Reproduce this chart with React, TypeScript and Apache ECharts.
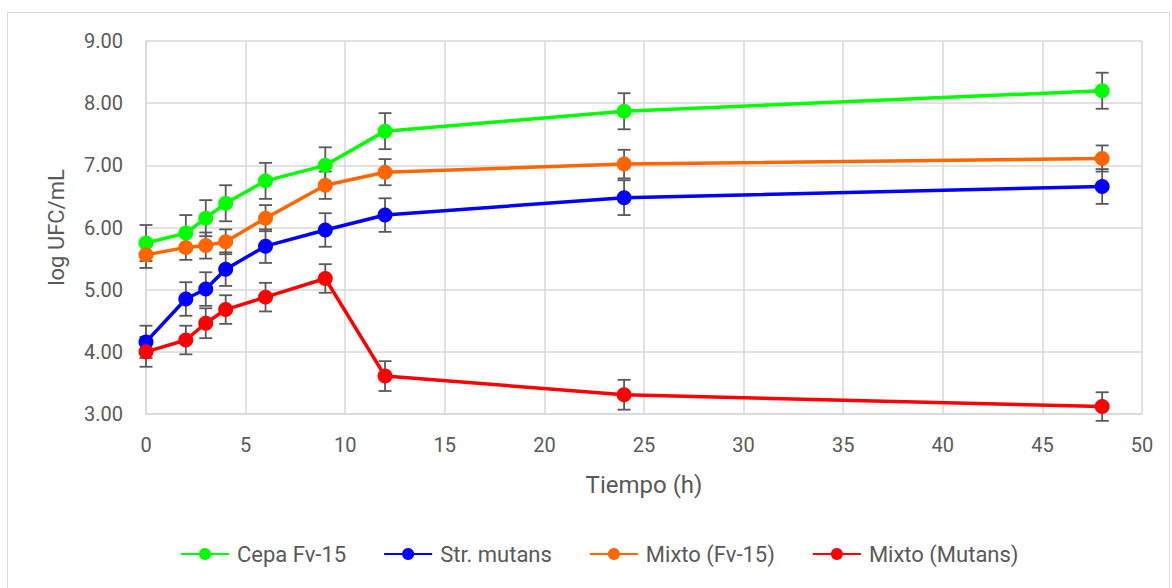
import React, { useEffect, useRef } from "react";
import * as echarts from "echarts";

const timeH = [0, 2, 3, 4, 6, 9, 12, 24, 48];
const cepaFv15 = [5.75, 5.91, 6.15, 6.39, 6.75, 7.0, 7.55, 7.87, 8.2];
const strMutans = [4.16, 4.85, 5.01, 5.33, 5.7, 5.96, 6.2, 6.48, 6.66];
const mixtoFv15 = [5.56, 5.68, 5.71, 5.77, 6.15, 6.68, 6.89, 7.02, 7.11];
const mixtoMutans = [4.0, 4.19, 4.46, 4.68, 4.88, 5.18, 3.61, 3.31, 3.12];
const errCepa = [0.29, 0.29, 0.29, 0.29, 0.29, 0.29, 0.29, 0.29, 0.29];
const errStr = [0.26, 0.27, 0.27, 0.27, 0.27, 0.27, 0.27, 0.28, 0.28];
const errMixFv = [0.21, 0.2, 0.21, 0.2, 0.21, 0.22, 0.21, 0.23, 0.21];
const errMixMut = [0.24, 0.23, 0.24, 0.23, 0.23, 0.23, 0.24, 0.24, 0.23];

const seriesNames = ["Cepa Fv-15", "Str. mutans", "Mixto (Fv-15)", "Mixto (Mutans)"];
const colors = ["#00ff00", "#0000ff", "#ff6600", "#ff0000"];
const legendTextWidths = [109, 114, 135, 155];
const FONT = "Roboto, 'Noto Sans', sans-serif";

export default function App() {
  const ref = useRef<HTMLDivElement>(null);
  useEffect(() => {
    if (!ref.current) return;
    const chart = echarts.init(ref.current, undefined, { renderer: "svg" });
    const values = [cepaFv15, strMutans, mixtoFv15, mixtoMutans];
    const errs = [errCepa, errStr, errMixFv, errMixMut];

    const lineSeries = values.map((vals, i) => ({
      name: seriesNames[i],
      type: "line",
      data: timeH.map((t, j) => [t, vals[j]]),
      symbol: "circle",
      symbolSize: 15,
      lineStyle: { width: 3.5, color: colors[i] },
      itemStyle: { color: colors[i] },
      z: 3,
    }));

    const errSeries = values.map((vals, i) => ({
      name: seriesNames[i] + " err",
      type: "custom",
      z: 2,
      silent: true,
      data: timeH.map((t, j) => [t, vals[j] - errs[i][j], vals[j] + errs[i][j]]),
      renderItem: (params: any, api: any) => {
        const x = api.value(0);
        const lo = api.coord([x, api.value(1)]);
        const hi = api.coord([x, api.value(2)]);
        const hw = 6.5;
        const st = { stroke: "#595959", lineWidth: 1.8 };
        return {
          type: "group",
          children: [
            { type: "line", shape: { x1: lo[0], y1: lo[1], x2: hi[0], y2: hi[1] }, style: st },
            { type: "line", shape: { x1: lo[0] - hw, y1: lo[1], x2: lo[0] + hw, y2: lo[1] }, style: st },
            { type: "line", shape: { x1: hi[0] - hw, y1: hi[1], x2: hi[0] + hw, y2: hi[1] }, style: st },
          ],
        };
      },
    }));

    chart.setOption({
      animation: false,
      backgroundColor: "#ffffff",
      textStyle: { fontFamily: FONT },
      graphic: [
        {
          type: "rect",
          shape: { x: 7.5, y: 12.5, width: 1162, height: 590 },
          style: { fill: "none", stroke: "#d9d9d9", lineWidth: 1 },
          silent: true,
        },
      ],
      grid: { left: 146, right: 30, top: 41, bottom: 174 },
      xAxis: {
        type: "value",
        min: 0,
        max: 50,
        interval: 5,
        name: "Tiempo (h)",
        nameLocation: "middle",
        nameGap: 59,
        nameTextStyle: { fontSize: 24, color: "#595959", fontFamily: FONT },
        axisLine: { show: true, lineStyle: { color: "#d9d9d9", width: 1.5 } },
        axisTick: { show: false },
        axisLabel: { fontSize: 20, color: "#595959", margin: 21, fontFamily: FONT },
        splitLine: { show: true, lineStyle: { color: "#d9d9d9", width: 1.5 } },
      },
      yAxis: {
        type: "value",
        min: 3,
        max: 9,
        interval: 1,
        name: "log UFC/mL",
        nameLocation: "middle",
        nameGap: 79,
        nameRotate: 90,
        nameTextStyle: { fontSize: 22, color: "#595959", fontFamily: FONT },
        axisLine: { show: true, lineStyle: { color: "#d9d9d9", width: 1.5 } },
        axisTick: { show: false },
        axisLabel: {
          fontSize: 20,
          color: "#595959",
          margin: 23,
          fontFamily: FONT,
          formatter: (v: number) => v.toFixed(2),
        },
        splitLine: { show: true, lineStyle: { color: "#d9d9d9", width: 1.5 } },
      },
      legend: {
        data: seriesNames.map((n, i) => ({
          name: n,
          textStyle: { width: legendTextWidths[i] },
        })),
        bottom: 18,
        left: 175,
        itemWidth: 48,
        itemHeight: 15,
        itemGap: 37,
        textStyle: { fontSize: 22, color: "#595959", fontFamily: FONT, padding: [0, 0, 0, 3] },
      },
      series: [...errSeries, ...lineSeries],
    });
    return () => chart.dispose();
  }, []);

  return (
    <div
      ref={ref}
      style={{ position: "fixed", left: 0, top: 0, width: 1172, height: 588 }}
    />
  );
}
